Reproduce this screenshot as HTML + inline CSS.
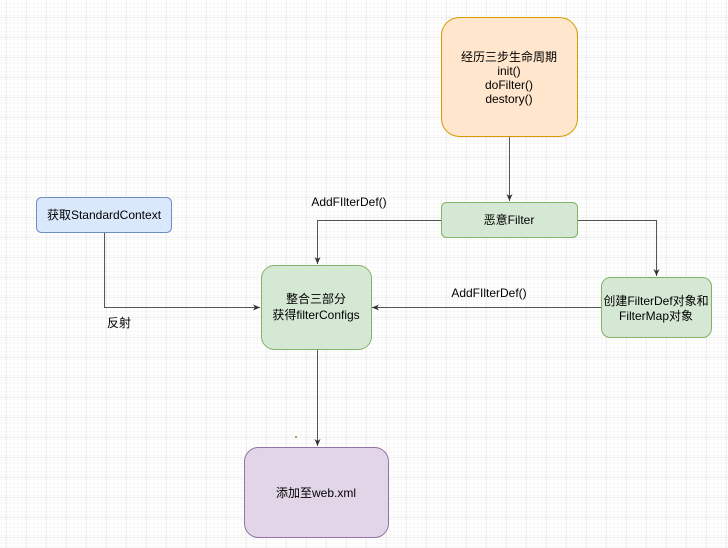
<!DOCTYPE html>
<html><head><meta charset="utf-8"><style>
html,body{margin:0;padding:0;width:728px;height:548px;overflow:hidden;background:#fff}
svg text{font-family:"Liberation Sans","Noto Sans CJK SC",sans-serif;font-size:12px;fill:#000}
</style></head><body>
<svg width="728" height="548" viewBox="0 0 728 548" xmlns="http://www.w3.org/2000/svg">
<defs>
<pattern id="minor" width="4" height="4" patternUnits="userSpaceOnUse" x="6.5" y="5.5"><path d="M4 0H0V4" fill="none" stroke="#f3f3f3" stroke-width="1"/></pattern>
<pattern id="major" width="20" height="20" patternUnits="userSpaceOnUse" x="6.5" y="17.5"><rect width="20" height="20" fill="url(#minor)"/><path d="M20 0H0V20" fill="none" stroke="#e0e0e0" stroke-width="1"/></pattern>
<marker id="a" markerWidth="8" markerHeight="8" refX="7" refY="4" orient="auto" markerUnits="userSpaceOnUse"><path d="M0,1 L7,4 L0,7 L2,4 Z" fill="#333"/></marker>
</defs>
<rect width="728" height="548" fill="url(#major)"/>
<g fill="none" stroke="#555" stroke-width="1">
<path d="M509.5 137V201" marker-end="url(#a)"/>
<path d="M441 220.5H317.5V264" marker-end="url(#a)"/>
<path d="M577 220.5H656.5V276" marker-end="url(#a)"/>
<path d="M601 307.5H372" marker-end="url(#a)"/>
<path d="M104.5 232V307.5H260" marker-end="url(#a)"/>
<path d="M317.5 349V446" marker-end="url(#a)"/>
</g>
<rect x="441.5" y="17.5" width="136" height="119" rx="18" fill="#ffe6cc" stroke="#d79b00"/>
<rect x="441.5" y="202.5" width="136" height="35" rx="5" fill="#d5e8d4" stroke="#82b366"/>
<rect x="36.5" y="197.5" width="135" height="35" rx="5" fill="#dae8fc" stroke="#6c8ebf"/>
<rect x="261.5" y="265.5" width="110" height="84" rx="13" fill="#d5e8d4" stroke="#82b366"/>
<rect x="601.5" y="277.5" width="110" height="60" rx="9" fill="#d5e8d4" stroke="#82b366"/>
<rect x="244.5" y="447.5" width="144" height="90" rx="14" fill="#e1d5e7" stroke="#9673a6"/>
<rect x="295" y="436" width="2" height="2" fill="#82b366"/>
<g text-anchor="middle">
<text x="509" y="61">经历三步生命周期</text>
<text x="509" y="75">init()</text>
<text x="509" y="89">doFilter()</text>
<text x="509" y="103">destory()</text>
<text x="509" y="224">恶意Filter</text>
<text x="104" y="219">获取StandardContext</text>
<text x="316" y="303">整合三部分</text>
<text x="316" y="319">获得filterConfigs</text>
<text x="656" y="305">创建FilterDef对象和</text>
<text x="656" y="320">FilterMap对象</text>
<text x="316" y="497">添加至web.xml</text>
<text x="349" y="206">AddFIlterDef()</text>
<text x="489" y="297">AddFIlterDef()</text>
<text x="119" y="327">反射</text>
</g>
</svg>
</body></html>
